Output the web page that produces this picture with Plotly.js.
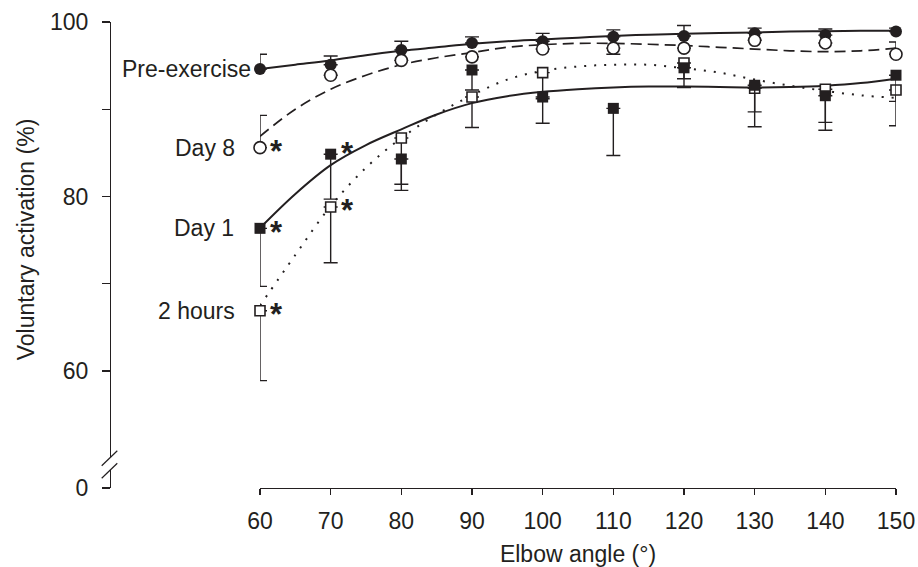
<!DOCTYPE html>
<html>
<head>
<meta charset="utf-8">
<script src="https://cdn.plot.ly/plotly-3.0.1.min.js"></script>
<style>html,body{margin:0;padding:0;background:#fff;}#chart{width:918px;height:567px;}</style>
</head>
<body>
<div id="chart"></div>
<script>
// ---- data ----
const angles = [60, 70, 80, 90, 100, 110, 120, 130, 140, 150];
const xTickVals = [60, 70, 80, 90, 100, 110, 120, 130, 140, 150];

const preExercise = [94.6, 95.1, 96.8, 97.6, 97.8, 98.3, 98.4, 98.7, 98.5, 98.9];
const preExerciseErrUp = [1.7, 1.0, 1.0, 0.7, 0.9, 0.8, 1.2, 0.6, 0.7, 0.4];

const day8 = [85.6, 93.9, 95.6, 96.0, 96.9, 97.0, 97.0, 97.9, 97.6, 96.3];
const day8ErrUp = [3.7, 0, 0, 0, 0, 0, 0, 0, 0, 1.4];
const day8ErrDown = [0, 0, 0, 0, 0, 0.7, 0, 0, 0, 0];

const day1 = [76.35, 84.85, 84.3, 94.5, 91.4, 90.1, 94.75, 92.75, 91.55, 93.9];
const day1ErrDown = [6.65, 5.15, 3.6, 2.3, 3.0, 5.4, 2.25, 4.75, 3.95, 3.0];

const twoHours = [66.9, 78.8, 86.7, 91.4, 94.2, null, 95.3, 92.4, 92.3, 92.2];
const twoHoursErrDown = [8.0, 6.4, 5.3, 3.5, 3.0, 0, 1.8, 2.7, 3.8, 4.1];

// fitted curves, read every 5 degrees
const fitAngles = [60, 65, 70, 75, 80, 85, 90, 95, 100, 105, 110, 115, 120, 125, 130, 135, 140, 145, 150];
const preFit  = [94.6, 95.1, 95.6, 96.2, 96.7, 97.1, 97.5, 97.8, 98.0, 98.2, 98.4, 98.55, 98.65, 98.75, 98.8, 98.9, 98.95, 99.0, 99.0];
const day8Fit = [86.9, 90.0, 92.3, 93.9, 95.1, 95.9, 96.5, 97.1, 97.4, 97.55, 97.55, 97.45, 97.3, 97.1, 96.9, 96.7, 96.6, 96.7, 97.0];
const day1Fit = [76.4, 80.3, 83.6, 85.9, 87.7, 89.4, 90.7, 91.5, 92.0, 92.3, 92.5, 92.6, 92.6, 92.55, 92.5, 92.55, 92.7, 93.0, 93.5];
const twoHFit = [67.5, 73.3, 78.9, 83.3, 86.7, 89.4, 91.6, 93.4, 94.4, 94.9, 95.1, 95.1, 94.7, 94.2, 93.4, 92.7, 92.1, 91.6, 91.3];

const seriesLabels = ["Pre-exercise", "Day 8", "Day 1", "2 hours"];
const yMainTicks = [60, 70, 80, 90, 100];
const yMainTickText = ["60", "", "80", "", "100"];
const yBreakTicks = [0];
const yBreakTickText = ["0"];
// significance markers: [series, index]
const starPoints = [["day8", 0], ["day1", 0], ["twoHours", 0], ["day1", 1], ["twoHours", 1]];

// ---- drawing ----
const INK = "#231f20";
const FONT = "Liberation Sans, Arial, Helvetica, sans-serif";
const FS = 23;

function fitTrace(y, dash, width) {
  return {x: fitAngles, y: y, mode: "lines", type: "scatter",
    line: {color: INK, width: width, dash: dash, shape: "spline", smoothing: 1.0},
    hoverinfo: "skip", cliponaxis: false};
}
function errBar(plus, minus) {
  return {type: "data", symmetric: false, array: plus, arrayminus: minus,
    color: INK, thickness: 1.4, width: 7};
}
const zeros = angles.map(() => 0);

const traces = [
  fitTrace(preFit, "solid", 2),
  fitTrace(day8Fit, "11px,6px", 1.7),
  fitTrace(day1Fit, "solid", 2),
  fitTrace(twoHFit, "2px,8px", 2),
  {x: angles, y: twoHours, mode: "markers", type: "scatter", cliponaxis: false,
    marker: {symbol: "square", size: 10, color: "#fff", line: {color: INK, width: 1.6}},
    error_y: errBar(zeros, twoHoursErrDown)},
  {x: angles, y: day1, mode: "markers", type: "scatter", cliponaxis: false,
    marker: {symbol: "square", size: 11, color: INK, line: {color: INK, width: 0}},
    error_y: errBar(zeros, day1ErrDown)},
  {x: angles, y: preExercise, mode: "markers", type: "scatter", cliponaxis: false,
    marker: {symbol: "circle", size: 12, color: INK, line: {color: INK, width: 0}},
    error_y: errBar(preExerciseErrUp, zeros)},
  {x: angles, y: day8, mode: "markers", type: "scatter", cliponaxis: false,
    marker: {symbol: "circle", size: 12, color: "#fff", line: {color: INK, width: 1.6}},
    error_y: errBar(day8ErrUp, day8ErrDown)},
  // empty trace so the lower (broken) axis segment with its 0 tick is drawn
  {x: [60], y: [null], xaxis: "x", yaxis: "y2", mode: "markers", type: "scatter",
    hoverinfo: "skip", marker: {opacity: 0}}
];

const seriesMap = {preExercise: preExercise, day8: day8, day1: day1, twoHours: twoHours};

const annotations = [];
const labelSeries = [preExercise, day8, day1, twoHours];
const labelShift = [-7, -23, -24, -23];
seriesLabels.forEach((t, i) => {
  annotations.push({x: angles[0], y: labelSeries[i][0], xref: "x", yref: "y",
    text: t, showarrow: false, xanchor: "right", yanchor: "middle", xshift: labelShift[i],
    font: {family: FONT, size: FS, color: INK}});
});
starPoints.forEach(([s, i]) => {
  annotations.push({x: angles[i], y: seriesMap[s][i], xref: "x", yref: "y",
    text: "<b>*</b>", showarrow: false, xanchor: "center", yanchor: "middle",
    xshift: 17, yshift: (s === "day1" && i === 1) ? 1 : -4,
    font: {family: FONT, size: 31, color: INK}});
});

const shapes = [
  {type: "line", xref: "paper", yref: "paper", xsizemode: "pixel", ysizemode: "pixel",
    xanchor: 0, yanchor: 0, x0: -8.3, x1: 7.3, y0: 22.3, y1: 37.3, line: {color: INK, width: 1.2}},
  {type: "line", xref: "paper", yref: "paper", xsizemode: "pixel", ysizemode: "pixel",
    xanchor: 0, yanchor: 0, x0: -8.3, x1: 7.3, y0: 9.7, y1: 24.7, line: {color: INK, width: 1.2}}
];

const axisCommon = {showline: true, linecolor: INK, linewidth: 1.3, ticks: "outside",
  tickcolor: INK, tickwidth: 1.3, showgrid: false, zeroline: false,
  tickfont: {family: FONT, size: FS, color: INK}};

const layout = {
  width: 918, height: 567,
  margin: {l: 110, r: 12, t: 22, b: 79},
  paper_bgcolor: "#fff", plot_bgcolor: "#fff",
  showlegend: false,
  font: {family: FONT, size: FS, color: INK},
  xaxis: Object.assign({}, axisCommon, {
    domain: [0.18844, 0.98744], range: [60, 150], anchor: "free", position: 0,
    tickvals: xTickVals, ticklen: 6, ticklabelstandoff: 6,
    title: {text: "Elbow angle (°)", font: {family: FONT, size: FS, color: INK}, standoff: 13}
  }),
  yaxis: Object.assign({}, axisCommon, {
    domain: [0.0665, 1], range: [50.14, 100], anchor: "free", position: 0,
    tickvals: yMainTicks, ticktext: yMainTickText, ticklen: 8, ticklabelstandoff: 9,
    title: {text: "Voluntary activation (%)", font: {family: FONT, size: FS, color: INK}, standoff: 7}
  }),
  yaxis2: Object.assign({}, axisCommon, {
    domain: [0, 0.0386], range: [0, 2], anchor: "free", position: 0,
    tickvals: yBreakTicks, ticktext: yBreakTickText, ticklen: 8, ticklabelstandoff: 9
  }),
  annotations: annotations,
  shapes: shapes
};

Plotly.newPlot("chart", traces, layout, {displayModeBar: false, staticPlot: true});
</script>
</body>
</html>
